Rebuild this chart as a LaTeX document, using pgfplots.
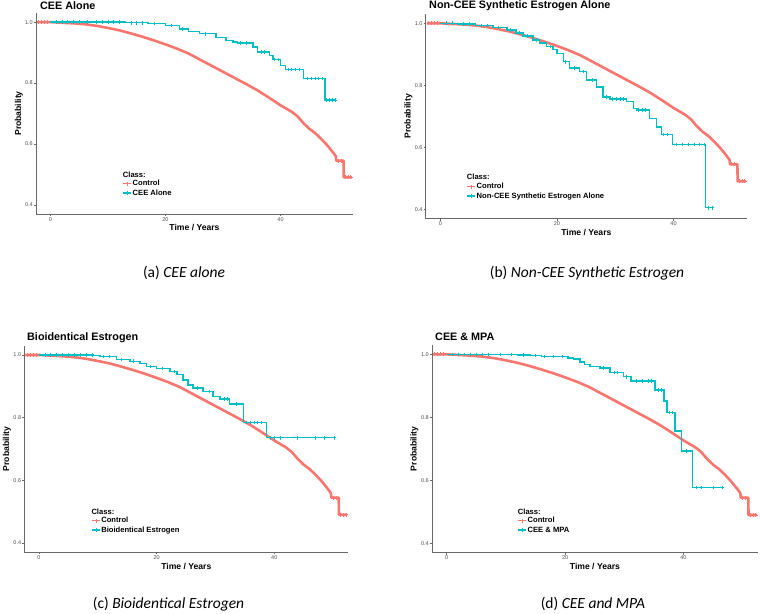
\documentclass[border=0pt]{standalone}
\usepackage{xcolor}
\usepackage{fontspec}
\setmainfont{Liberation Sans}
\newfontfamily\capfont{Carlito}
\usepackage{pgfplots}
\usepackage{pgfplotstable}
\pgfplotsset{compat=1.18}
\definecolor{ctrl}{HTML}{F8766D}
\definecolor{trt}{HTML}{00BFC4}
\definecolor{axgray}{HTML}{4D4D4D}

\pgfplotstableread{
x y
-2.3 1.0
0 1.0
2 0.998
4 0.996
6 0.993
8 0.988
10 0.981
12 0.973
14 0.963
16 0.952
18 0.940
20 0.927
22 0.913
24 0.897
26 0.877
28 0.857
30 0.837
32 0.817
34 0.797
36 0.776
38 0.752
40 0.727
42 0.705
43 0.690
44 0.668
45 0.650
46 0.636
47 0.618
48 0.598
49 0.575
49.6 0.560
49.7 0.545
50.95 0.545
51.0 0.490
52.4 0.490
}\ctrldata

\pgfplotstableread{
x y
-2.0 1.0
-1.5 1.0
-1.0 1.0
-0.5 1.0
50.0 0.545
50.5 0.545
51.3 0.490
51.8 0.490
52.2 0.490
}\ctrlmarks

\pgfplotstableread{
x y
0 1.0
13 0.998
17 0.995
20 0.989
22.4 0.978
24 0.970
25.9 0.962
28.8 0.949
30.5 0.940
31.7 0.935
32.5 0.932
35.2 0.918
36 0.902
38.1 0.891
38.7 0.877
40 0.858
40.9 0.844
44 0.815
47.7 0.744
49.7 0.744
}\ceeA

\pgfplotstableread{
x y
1 1.0
2 1.0
3 1.0
4 1.0
5 1.0
6.5 1.0
8 1.0
9 1.0
10 1.0
11 1.0
12 1.0
14 0.998
15 0.998
16 0.998
18 0.995
21 0.989
23 0.978
27 0.962
33 0.932
34 0.932
36.6 0.902
37.2 0.902
39 0.877
39.6 0.877
41.3 0.844
41.8 0.844
42.5 0.844
43.3 0.844
44.6 0.815
45.3 0.815
46 0.815
46.6 0.815
47.2 0.815
48 0.744
48.5 0.744
49 0.744
49.5 0.744
}\ceeAm

\pgfplotstableread{
x y
0 1.0
3 0.997
6 0.993
9 0.986
11.4 0.978
13 0.968
14.2 0.959
15.9 0.946
17 0.937
18.2 0.925
19.3 0.915
20 0.903
21.1 0.876
22.2 0.855
23.9 0.844
25.1 0.817
26.8 0.795
27.9 0.763
29.1 0.755
31.9 0.747
33.1 0.725
33.7 0.720
35.9 0.693
37.1 0.666
37.9 0.641
39.8 0.609
45.5 0.405
46.8 0.405
}\nonB

\pgfplotstableread{
x y
1 1.0
2 1.0
4 0.997
5 0.997
7 0.993
8 0.993
10 0.986
12 0.978
13.5 0.968
15 0.959
16.5 0.946
18.8 0.925
21.5 0.876
23 0.855
24.5 0.844
26 0.817
28.5 0.763
29.5 0.755
30.2 0.755
30.8 0.755
31.4 0.755
34 0.720
34.6 0.720
35.2 0.720
38.3 0.641
39 0.641
40.5 0.609
41.5 0.609
42.5 0.609
43.5 0.609
44.5 0.609
45.2 0.609
46 0.405
46.6 0.405
}\nonBm

\pgfplotstableread{
x y
0 1.0
9.2 0.998
10.4 0.995
13.2 0.986
15.5 0.980
17.2 0.973
18.3 0.963
20 0.957
22.3 0.947
23.5 0.937
24.5 0.920
25.3 0.905
26.2 0.894
27.9 0.883
29.6 0.867
30.8 0.859
32.4 0.843
34.8 0.785
38.7 0.736
50.3 0.736
}\bioC

\pgfplotstableread{
x y
1 1.0
2 1.0
3 1.0
4 1.0
5 1.0
6 1.0
7 1.0
8 1.0
9 1.0
11 0.995
12 0.995
14 0.986
16 0.980
19 0.963
21 0.957
23 0.947
27 0.894
29 0.883
31.5 0.859
32 0.859
33.5 0.843
35.3 0.785
36 0.785
36.6 0.785
37.2 0.785
37.8 0.785
39.3 0.736
40 0.736
41 0.736
44 0.736
47 0.736
48.5 0.736
50.2 0.736
}\bioCm

\pgfplotstableread{
x y
0 1.0
12 0.998
14.1 0.996
16 0.993
20.5 0.989
21.4 0.985
22.5 0.975
23.3 0.968
24.2 0.961
25.9 0.956
27.6 0.942
29.9 0.929
31.1 0.915
35.2 0.887
36.7 0.852
37.2 0.816
38.6 0.757
39.7 0.693
41.5 0.577
46.6 0.577
}\mpaD

\pgfplotstableread{
x y
1 1.0
2 1.0
3 1.0
4 1.0
5 1.0
6 1.0
7 1.0
9 1.0
11 1.0
13 0.998
15 0.996
16.5 0.993
18 0.993
19.5 0.993
26.5 0.956
28.3 0.942
28.9 0.942
30.4 0.929
32 0.915
33 0.915
34 0.915
34.6 0.915
35.8 0.887
36.3 0.887
37.6 0.816
38.2 0.816
40.5 0.693
42.2 0.577
43 0.577
45 0.577
46.5 0.577
}\mpaDm

\pgfplotsset{
 km/.style={
  scale only axis,
  anchor=south west,
  xmin=-2.5, xmax=52.6, ymin=0.37, ymax=1.03,
  axis x line*=bottom, axis y line*=left,
  axis line style={-, draw=axgray!85, line width=0.7pt},
  xtick={0,20,40}, ytick={0.4,0.6,0.8,1.0},
  tick align=outside, major tick length=2pt,
  tick style={draw=axgray!85, line width=0.5pt},
  tick label style={font=\fontsize{5.5}{6}\selectfont, text=axgray, inner sep=1pt},
  /pgf/number format/assume math mode=true,
  yticklabel style={/pgf/number format/.cd, fixed, fixed zerofill, precision=1},
  xlabel={Time / Years}, ylabel={Probability},
  label style={font=\fontsize{8.6}{9}\selectfont\bfseries, text=black},
  xlabel style={at={(axis description cs:0.5,-0.081)}, anchor=base},
  ylabel style={at={(axis description cs:-0.054,0.5)}, anchor=center},
  legend style={draw=none, fill=none, inner sep=0pt, outer sep=0pt,
    font=\fontsize{7.6}{8}\selectfont\bfseries, row sep=1.5pt,
    nodes={inner sep=0.6pt, text height=5.5pt, text depth=1.2pt, text=black},
    anchor=north west},
  legend cell align=left,
  legend image code/.code={\draw[mark repeat=2, mark phase=2, #1] plot coordinates {(0pt,0pt)(4pt,0pt)(8pt,0pt)};},
 },
 ctrlline/.style={draw=ctrl, line width=2.6pt, line join=round, forget plot},
 ctrlmk/.style={draw=ctrl, only marks, mark=+, mark size=2pt, line width=0.8pt, mark options={draw=ctrl}, forget plot},
 trtline/.style={draw=trt, line width=1.5pt, const plot mark left, forget plot},
 trtmk/.style={draw=trt, only marks, mark=+, mark size=1.8pt, line width=0.7pt, mark options={draw=trt}, forget plot},
 ctrlleg/.style={draw=ctrl, line width=1.4pt, mark=+, mark size=2pt, mark options={draw=ctrl, line width=0.9pt}},
 trtleg/.style={draw=trt, line width=1.4pt, mark=+, mark size=2pt, mark options={draw=trt, line width=0.9pt}},
}

\newcommand{\titlefont}{\fontsize{10.8}{12}\selectfont\bfseries}
\newcommand{\classfont}{\fontsize{7.6}{8}\selectfont\bfseries}
\newcommand{\capsize}{\fontsize{15.5}{17}\selectfont}

\begin{document}
\begin{tikzpicture}
\path[use as bounding box] (0,0) rectangle (760pt,613pt);

% (a)
\begin{axis}[km, at={(36pt,399pt)}, width=317pt, height=201pt,
  legend style={at={(axis description cs:0.2735,0.170)}}]
\addplot[ctrlline] table {\ctrldata};
\addplot[ctrlmk] table {\ctrlmarks};
\addplot[trtline] table {\ceeA};
\addplot[trtmk] table {\ceeAm};
\addlegendimage{ctrlleg}
\addlegendentry{Control}
\addlegendimage{trtleg}
\addlegendentry{CEE Alone}
\end{axis}
\node[anchor=base west, inner sep=0pt] at (40pt,603.7pt) {\titlefont CEE Alone};
\node[anchor=base west, inner sep=0pt] at (122.7pt,435.3pt) {\classfont Class:};
\node[anchor=base, inner sep=0pt] at (184pt,335pt) {\capfont\capsize (a) \textit{CEE alone}};

% (b)
\begin{axis}[km, at={(425.7pt,394.4pt)}, width=321.3pt, height=204.6pt,
  legend style={at={(axis description cs:0.1276,0.175)}}]
\addplot[ctrlline] table {\ctrldata};
\addplot[ctrlmk] table {\ctrlmarks};
\addplot[trtline] table {\nonB};
\addplot[trtmk] table {\nonBm};
\addlegendimage{ctrlleg}
\addlegendentry{Control}
\addlegendimage{trtleg}
\addlegendentry{Non-CEE Synthetic Estrogen Alone}
\end{axis}
\node[anchor=base west, inner sep=0pt] at (429pt,604pt) {\titlefont Non-CEE Synthetic Estrogen Alone};
\node[anchor=base west, inner sep=0pt] at (466.7pt,433.3pt) {\classfont Class:};
\node[anchor=base, inner sep=0pt] at (587pt,335pt) {\capfont\capsize (b) \textit{Non-CEE Synthetic Estrogen}};

% (c)
\begin{axis}[km, at={(24.3pt,60.6pt)}, width=324.1pt, height=206.8pt,
  legend style={at={(axis description cs:0.2067,0.172)}}]
\addplot[ctrlline] table {\ctrldata};
\addplot[ctrlmk] table {\ctrlmarks};
\addplot[trtline] table {\bioC};
\addplot[trtmk] table {\bioCm};
\addlegendimage{ctrlleg}
\addlegendentry{Control}
\addlegendimage{trtleg}
\addlegendentry{Bioidentical Estrogen}
\end{axis}
\node[anchor=base west, inner sep=0pt] at (27pt,272.3pt) {\titlefont Bioidentical Estrogen};
\node[anchor=base west, inner sep=0pt] at (91.3pt,98.3pt) {\classfont Class:};
\node[anchor=base, inner sep=0pt] at (168.5pt,5pt) {\capfont\capsize (c) \textit{Bioidentical Estrogen}};

% (d)
\begin{axis}[km, at={(431.9pt,60.2pt)}, width=326.1pt, height=207.9pt,
  legend style={at={(axis description cs:0.263,0.173)}}]
\addplot[ctrlline] table {\ctrldata};
\addplot[ctrlmk] table {\ctrlmarks};
\addplot[trtline] table {\mpaD};
\addplot[trtmk] table {\mpaDm};
\addlegendimage{ctrlleg}
\addlegendentry{Control}
\addlegendimage{trtleg}
\addlegendentry{CEE \& MPA}
\end{axis}
\node[anchor=base west, inner sep=0pt] at (435pt,272pt) {\titlefont CEE \& MPA};
\node[anchor=base west, inner sep=0pt] at (517.7pt,98.3pt) {\classfont Class:};
\node[anchor=base, inner sep=0pt] at (593pt,5pt) {\capfont\capsize (d) \textit{CEE and MPA}};
\end{tikzpicture}
\end{document}
